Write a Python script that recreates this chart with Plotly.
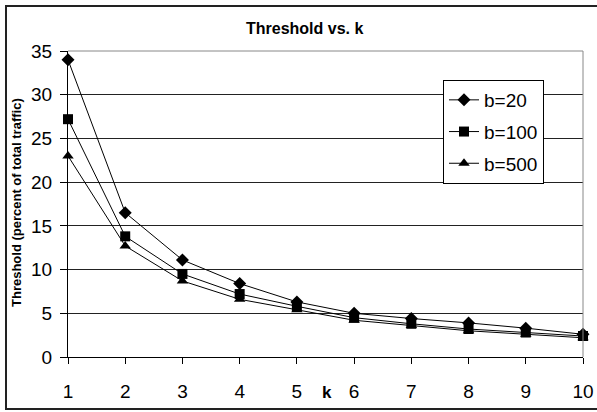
import plotly.graph_objects as go

k = [1, 2, 3, 4, 5, 6, 7, 8, 9, 10]
b20 = [34.0, 16.5, 11.1, 8.4, 6.3, 5.0, 4.4, 3.9, 3.3, 2.6]
b100 = [27.2, 13.8, 9.5, 7.2, 5.8, 4.5, 3.8, 3.2, 2.8, 2.4]
b500 = [23.0, 12.7, 8.7, 6.6, 5.4, 4.2, 3.6, 3.0, 2.6, 2.2]
series_names = ["b=20", "b=100", "b=500"]
y_ticks = [0, 5, 10, 15, 20, 25, 30, 35]

FONT = "Liberation Sans, Arial, sans-serif"

L, R, T, B = 68, 583, 51, 357
W, H = R - L, B - T

def px(xp):
    return (xp - L) / W

def py(yp):
    return (B - yp) / H

fig = go.Figure()
for name, vals, sym in zip(series_names, [b20, b100, b500], ["diamond", "square", "triangle-up"]):
    fig.add_trace(go.Scatter(
        x=k, y=vals, name=name, mode="lines+markers", legendgroup=name,
        line=dict(color="black", width=1),
        marker=dict(symbol=sym, size=10, color="black"),
        cliponaxis=False,
    ))

fig.update_layout(
    width=597, height=412,
    margin=dict(l=L, r=597 - R, t=T, b=412 - B, autoexpand=False),
    paper_bgcolor="white", plot_bgcolor="white",
    font=dict(family=FONT, color="black", size=19),
    showlegend=True,
    legend=dict(
        x=px(443), y=py(80), xanchor="left", yanchor="top",
        bordercolor="black", borderwidth=1, bgcolor="white",
        font=dict(size=19, family=FONT), tracegroupgap=4,
        itemwidth=30,
    ),
    xaxis=dict(
        range=[1, 10], tickmode="array", tickvals=k, ticktext=[str(v) for v in k],
        showgrid=False, zeroline=False, showline=True, linecolor="black", linewidth=1,
        ticks="outside", ticklen=6, tickcolor="black", ticklabelstandoff=11,
        tickfont=dict(size=19), automargin=False,
    ),
    yaxis=dict(
        range=[0, 35], tickmode="array", tickvals=y_ticks,
        showgrid=True, gridcolor="#222", gridwidth=1, zeroline=False,
        showline=True, linecolor="black", linewidth=1,
        ticks="outside", ticklen=7, tickcolor="black", ticklabelstandoff=4,
        tickfont=dict(size=19), automargin=False,
    ),
    annotations=[
        dict(text="<b>Threshold vs. k</b>", xref="paper", yref="paper",
             x=px(304), y=py(28), xanchor="center", yanchor="middle",
             showarrow=False, font=dict(size=16)),
        dict(text="<b>k</b>", xref="paper", yref="paper", x=px(327), y=py(392),
             showarrow=False, font=dict(size=17), xanchor="center", yanchor="middle"),
        dict(text="<b>Threshold (percent of total traffic)</b>", xref="paper", yref="paper",
             x=px(16), y=py(203), textangle=-90,
             showarrow=False, font=dict(size=13), xanchor="center", yanchor="middle"),
    ],
    shapes=[
        dict(type="line", xref="paper", yref="paper", x0=0, x1=1, y0=1, y1=1,
             line=dict(color="#888", width=1)),
        dict(type="line", xref="paper", yref="paper", x0=1, x1=1, y0=0, y1=1,
             line=dict(color="#888", width=1)),
        dict(type="rect", xref="paper", yref="paper",
             x0=px(6), x1=px(603), y0=py(409), y1=py(6),
             line=dict(color="#222", width=2), layer="below"),
    ],
)

fig.write_html(
    "out.html",
    config={"displayModeBar": False},
    post_script="document.body.style.margin='0';document.body.style.overflow='hidden';",
)
